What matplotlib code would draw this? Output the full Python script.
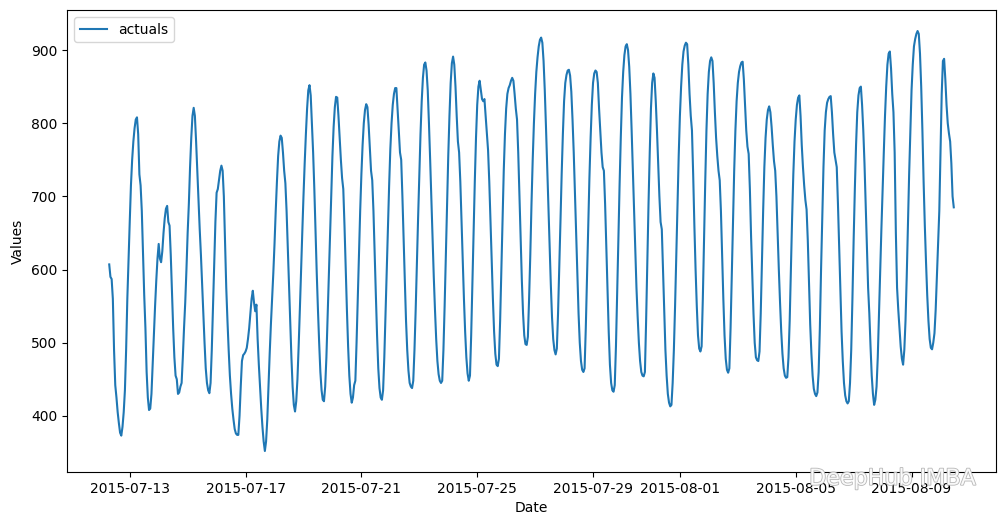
import matplotlib
matplotlib.use("Agg")
import matplotlib.pyplot as plt
import matplotlib.patheffects as pe
import pandas as pd

start_time = "2015-07-12 07:00"

# hourly values, one row per day
jul12 = [607, 590, 587, 560, 490, 442, 425, 405, 390, 377, 373, 385, 405, 435, 490, 560, 615]
jul13 = [665, 715, 750, 775, 793, 805, 808, 785, 730, 715, 680, 620, 565, 520, 460, 425, 408, 410, 430, 470, 510, 550, 585, 615]
jul14 = [635, 615, 610, 625, 650, 670, 683, 687, 665, 660, 620, 570, 520, 480, 455, 450, 430, 432, 440, 445, 480, 520, 555, 600]
jul15 = [650, 690, 740, 780, 810, 821, 810, 775, 735, 695, 655, 620, 580, 540, 500, 465, 445, 435, 431, 445, 490, 550, 610, 665]
jul16 = [705, 710, 722, 735, 742, 735, 700, 640, 575, 530, 490, 455, 430, 410, 395, 382, 376, 374, 374, 400, 440, 475, 483, 485]
jul17 = [488, 493, 505, 520, 540, 560, 571, 555, 543, 552, 505, 470, 440, 410, 385, 365, 352, 365, 395, 440, 485, 525, 560, 595]
jul18 = [635, 680, 720, 755, 775, 783, 780, 760, 735, 718, 680, 630, 580, 530, 480, 440, 415, 406, 420, 450, 495, 545, 600, 650]
jul19 = [700, 745, 785, 820, 845, 852, 838, 800, 760, 710, 650, 595, 545, 500, 460, 435, 422, 420, 440, 480, 535, 590, 650, 705]
jul20 = [755, 795, 822, 836, 835, 810, 780, 750, 725, 710, 660, 600, 545, 495, 455, 430, 418, 425, 442, 448, 500, 560, 620, 680]
jul21 = [730, 770, 800, 818, 826, 822, 798, 765, 735, 722, 680, 620, 565, 510, 465, 438, 425, 422, 435, 480, 540, 600, 660, 715]
jul22 = [765, 800, 825, 840, 848, 848, 820, 790, 760, 750, 700, 640, 585, 530, 490, 462, 445, 440, 438, 448, 490, 545, 610, 670]
jul23 = [730, 785, 830, 862, 880, 883, 872, 845, 800, 750, 695, 640, 590, 545, 505, 475, 457, 448, 445, 448, 490, 550, 620, 690]
jul24 = [755, 810, 855, 882, 891, 880, 850, 810, 775, 760, 720, 665, 610, 560, 515, 480, 458, 448, 455, 510, 580, 650, 720, 780]
jul25 = [825, 850, 858, 845, 833, 830, 833, 810, 785, 763, 720, 665, 610, 560, 515, 485, 470, 468, 478, 530, 600, 670, 735, 785]
jul26 = [820, 840, 848, 852, 858, 862, 858, 840, 820, 805, 760, 700, 640, 585, 540, 510, 498, 497, 508, 560, 620, 690, 750, 800]
jul27 = [840, 870, 890, 905, 914, 917, 910, 885, 845, 795, 740, 685, 630, 580, 535, 505, 490, 484, 492, 540, 600, 665, 730, 785]
jul28 = [830, 855, 866, 872, 873, 865, 843, 805, 760, 705, 645, 590, 540, 500, 475, 463, 460, 465, 520, 590, 660, 725, 780, 825]
jul29 = [855, 868, 872, 870, 855, 820, 790, 760, 740, 735, 690, 630, 570, 515, 470, 445, 435, 433, 442, 495, 565, 640, 715, 780]
jul30 = [835, 870, 893, 905, 908, 900, 877, 840, 790, 735, 680, 625, 575, 535, 500, 475, 460, 455, 454, 460, 530, 610, 690, 760]
jul31 = [820, 855, 868, 862, 830, 790, 745, 700, 665, 655, 600, 540, 490, 455, 430, 418, 413, 415, 445, 490, 550, 620, 690, 755]
aug01 = [810, 850, 880, 898, 906, 910, 908, 880, 840, 810, 790, 730, 660, 600, 550, 510, 492, 488, 495, 560, 640, 720, 790, 840]
aug02 = [870, 885, 890, 885, 855, 815, 780, 755, 735, 722, 680, 620, 560, 510, 478, 463, 459, 465, 520, 590, 665, 735, 790, 830]
aug03 = [855, 870, 878, 883, 884, 860, 825, 790, 768, 758, 710, 645, 590, 540, 500, 480, 476, 475, 488, 540, 610, 680, 740, 780]
aug04 = [805, 818, 823, 815, 795, 770, 748, 735, 700, 650, 600, 555, 515, 485, 465, 455, 452, 453, 480, 530, 600, 670, 730, 775]
aug05 = [805, 825, 835, 838, 810, 770, 740, 715, 695, 682, 640, 580, 525, 485, 455, 437, 430, 427, 432, 460, 520, 600, 670, 740]
aug06 = [790, 815, 828, 833, 836, 837, 815, 785, 760, 750, 740, 690, 630, 570, 515, 475, 445, 428, 420, 417, 420, 445, 490, 560]
aug07 = [640, 710, 770, 815, 838, 848, 850, 825, 790, 745, 690, 630, 575, 540, 495, 455, 430, 415, 422, 440, 480, 540, 600, 655]
aug08 = [710, 760, 810, 850, 880, 895, 898, 875, 840, 815, 760, 650, 575, 545, 520, 495, 478, 470, 490, 530, 590, 660, 730, 790]
aug09 = [845, 880, 905, 915, 922, 926, 922, 895, 850, 790, 720, 660, 610, 565, 530, 505, 493, 491, 500, 513, 545, 590, 635, 680]
aug10 = [760, 840, 885, 888, 860, 825, 800, 786, 775, 745, 700, 685]

days = [jul12, jul13, jul14, jul15, jul16, jul17, jul18, jul19, jul20, jul21, jul22,
        jul23, jul24, jul25, jul26, jul27, jul28, jul29, jul30, jul31, aug01, aug02,
        aug03, aug04, aug05, aug06, aug07, aug08, aug09, aug10]
values = [v for d in days for v in d]
dates = pd.date_range(start_time, periods=len(values), freq="h")

fig = plt.figure(figsize=(10.05, 5.25), dpi=100)
ax = fig.add_axes([67 / 1005, 53 / 525, 929 / 1005, 462 / 525])
ax.plot(dates, values, label="actuals", color="#1f77b4", linewidth=1.5)
ax.set_xlabel("Date")
ax.set_ylabel("Values")
ax.legend(loc="upper left")

fig.text(0.888, 0.088, "DeepHub IMBA", fontsize=16, color="white", ha="center", va="center",
         alpha=0.9, path_effects=[pe.withStroke(linewidth=1.2, foreground="#b0b0b0")])

fig.savefig("out.png", dpi=100)
